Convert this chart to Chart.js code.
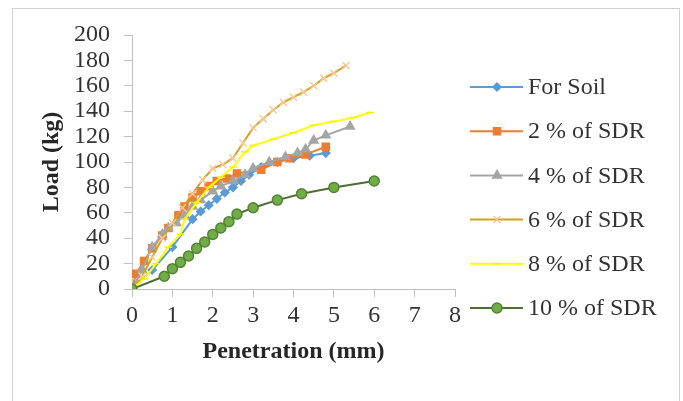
<!DOCTYPE html>
<html>
<head>
<meta charset="utf-8">
<script src="https://cdn.jsdelivr.net/npm/chart.js@4/dist/chart.umd.min.js"></script>
<style>
  html, body { margin: 0; padding: 0; background: #fff; }
  #wrap { position: relative; width: 683px; height: 401px; }
  #frame { position: absolute; left: 12px; top: 8px; width: 666px; height: 400px; border: 1px solid #d0d0d0; pointer-events: none; }
</style>
</head>
<body>
<div id="wrap">
  <canvas id="chart" width="683" height="401"></canvas>
  <div id="frame"></div>
</div>
<script>
// Penetration (mm) / Load (kg) readings for each mix
const seriesNames = ["For Soil", "2 % of SDR", "4 % of SDR", "6 % of SDR", "8 % of SDR", "10 % of SDR"];

const soilX = [0, 0.5, 1.0, 1.5, 1.7, 1.9, 2.1, 2.3, 2.5, 2.7, 2.9, 3.2, 3.6, 4.0, 4.4, 4.8];
const soilY = [0, 15, 33, 55, 61, 66, 71, 76, 80, 85, 90, 96, 100, 103, 105, 107];

const sdr2X = [0, 0.1, 0.3, 0.5, 0.75, 0.9, 1.15, 1.3, 1.5, 1.7, 1.9, 2.1, 2.35, 2.6, 3.2, 3.6, 3.9, 4.3, 4.8];
const sdr2Y = [0, 12, 22, 32, 42, 48, 58, 65, 72, 77, 81, 85, 87, 91, 94, 100, 103, 106, 112];

const sdr4X = [0, 0.25, 0.5, 0.75, 0.9, 1.1, 1.3, 1.5, 1.7, 2.0, 2.2, 2.5, 2.8, 3.0, 3.4, 3.8, 4.1, 4.3, 4.5, 4.8, 5.4];
const sdr4Y = [0, 15, 33, 43, 48, 52, 58, 65, 70, 77, 81, 85, 90, 95, 100, 104, 107, 110, 117, 121, 128];

const sdr6X = [0, 0.25, 0.5, 0.75, 1.0, 1.25, 1.5, 1.75, 2.0, 2.25, 2.5, 2.75, 3.0, 3.25, 3.5, 3.75, 4.0, 4.25, 4.5, 4.75, 5.0, 5.3];
const sdr6Y = [0, 10, 25, 40, 52, 64, 75, 86, 95, 98, 103, 115, 127, 134, 141, 147, 151, 155, 160, 166, 170, 176];

const sdr8X = [0, 0.3, 0.6, 0.9, 1.2, 1.3, 1.6, 1.9, 2.2, 2.5, 2.8, 3.0, 3.5, 4.0, 4.5, 5.0, 5.5, 5.9];
const sdr8Y = [0, 8, 20, 33, 43, 55, 68, 80, 88, 96, 108, 113, 118, 123, 129, 132, 135, 139];

const sdr10X = [0, 0.8, 1.0, 1.2, 1.4, 1.6, 1.8, 2.0, 2.2, 2.4, 2.6, 3.0, 3.6, 4.2, 5.0, 6.0];
const sdr10Y = [0, 10, 16, 21, 26, 32, 37, 43, 48, 53, 59, 64, 70, 75, 80, 85];

const xTicks = [0, 1, 2, 3, 4, 5, 6, 7, 8];
const yTicks = [0, 20, 40, 60, 80, 100, 120, 140, 160, 180, 200];

const pairs = (xs, ys) => xs.map((x, i) => ({ x: x, y: ys[i] }));

const styles = [
  { line: "#5B9BD5", fill: "#5B9BD5", edge: "#5B9BD5", point: "rectRot", r: 4 },
  { line: "#ED7D31", fill: "#ED7D31", edge: "#ED7D31", point: "rect", r: 5 },
  { line: "#A5A5A5", fill: "#A5A5A5", edge: "#A5A5A5", point: "triangle", r: 5 },
  { line: "#CFA21E", fill: "#F8C99A", edge: "#F8C99A", point: "crossRot", r: 5 },
  { line: "#FFFF00", fill: "#FFFF00", edge: "#F2F200", point: "line", r: 4 },
  { line: "#4E6B3A", fill: "#70AD47", edge: "#548235", point: "circle", r: 5 }
];
const allData = [
  pairs(soilX, soilY), pairs(sdr2X, sdr2Y), pairs(sdr4X, sdr4Y),
  pairs(sdr6X, sdr6Y), pairs(sdr8X, sdr8Y), pairs(sdr10X, sdr10Y)
];

const datasets = seriesNames.map((name, i) => ({
  label: name,
  data: allData[i],
  showLine: true,
  borderColor: styles[i].line,
  borderWidth: 2,
  backgroundColor: styles[i].fill,
  pointStyle: styles[i].point,
  pointRadius: styles[i].r,
  pointBackgroundColor: styles[i].fill,
  pointBorderColor: styles[i].edge,
  pointBorderWidth: 1.5,
  tension: 0,
  order: 6 - i
}));

// legend drawn as Excel does it: line, marker, label
const excelLegend = {
  id: "excelLegend",
  afterDraw(chart) {
    const ctx = chart.ctx;
    ctx.save();
    chart.data.datasets.forEach((ds, i) => {
      const y = 87 + i * 44.2;
      ctx.strokeStyle = ds.borderColor;
      ctx.lineWidth = 2;
      ctx.beginPath();
      ctx.moveTo(470, y);
      ctx.lineTo(523, y);
      ctx.stroke();
      ctx.fillStyle = ds.pointBackgroundColor;
      ctx.strokeStyle = ds.pointBorderColor;
      ctx.lineWidth = 1.5;
      Chart.helpers.drawPoint(ctx, { pointStyle: ds.pointStyle, radius: ds.pointRadius, rotation: 0, borderWidth: 1.5 }, 497, y);
      ctx.fillStyle = "#333333";
      ctx.font = "24px 'Liberation Serif'";
      ctx.textBaseline = "middle";
      ctx.textAlign = "left";
      ctx.fillText(ds.label, 528, y + 1);
    });
    ctx.restore();
  }
};

new Chart(document.getElementById("chart").getContext("2d"), {
  type: "scatter",
  data: { datasets: datasets },
  plugins: [excelLegend],
  options: {
    responsive: false,
    animation: false,
    layout: { padding: { left: 33, right: 228, top: 35, bottom: 31 } },
    plugins: { legend: { display: false }, tooltip: { enabled: false } },
    scales: {
      x: {
        type: "linear",
        min: 0,
        max: 8,
        afterBuildTicks: (s) => { s.ticks = xTicks.map(v => ({ value: v })); },
        afterFit: (s) => { s.height = 81; },
        grid: { drawOnChartArea: false, drawTicks: true, tickLength: 8, color: "#bfbfbf" },
        border: { color: "#bfbfbf", width: 1 },
        ticks: { color: "#333333", font: { family: "Liberation Serif", size: 24 }, padding: 4, maxRotation: 0, autoSkip: false },
        title: { display: true, text: "Penetration (mm)", color: "#262626", font: { family: "Liberation Serif", size: 24, weight: "bold" }, padding: 4 }
      },
      y: {
        type: "linear",
        min: 0,
        max: 200,
        afterBuildTicks: (s) => { s.ticks = yTicks.map(v => ({ value: v })); },
        afterFit: (s) => { s.width = 99; },
        grid: { drawOnChartArea: false, drawTicks: true, tickLength: 8, color: "#bfbfbf" },
        border: { color: "#bfbfbf", width: 1 },
        ticks: { color: "#333333", font: { family: "Liberation Serif", size: 24 }, padding: 14, autoSkip: false },
        title: { display: true, text: "Load (kg)", color: "#262626", font: { family: "Liberation Serif", size: 24, weight: "bold" }, padding: 4 }
      }
    }
  }
});
</script>
</body>
</html>
